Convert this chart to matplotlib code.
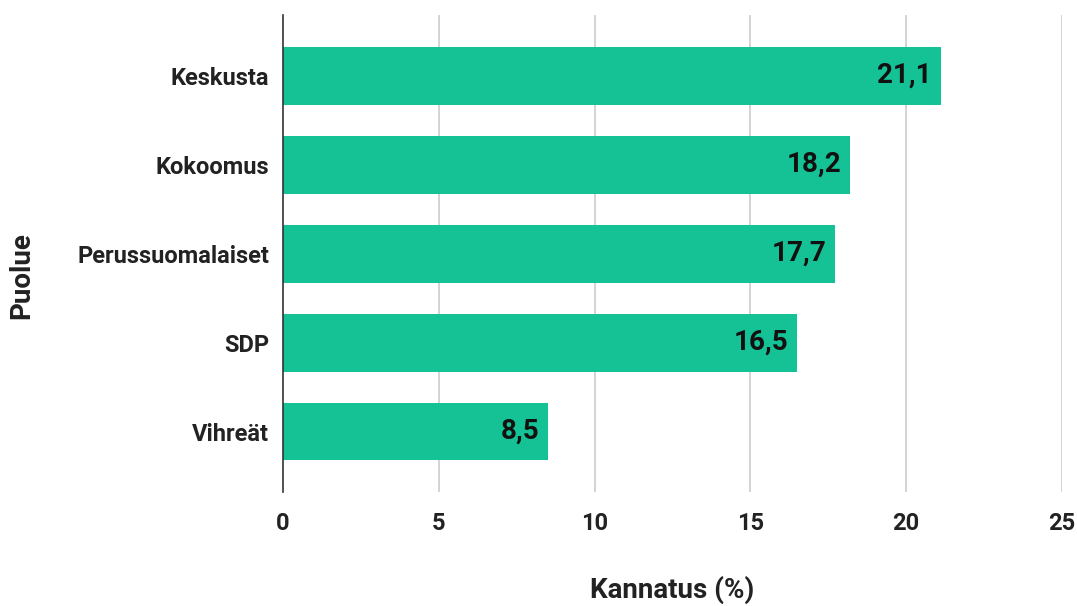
import matplotlib.pyplot as plt
import numpy as np

# Datos
puolueet = ["Keskusta", "Kokoomus", "Perussuomalaiset", "SDP", "Vihreät"]
kannatus = [21.1, 18.2, 17.7, 16.5, 8.5]
x_ticks = [0, 5, 10, 15, 20, 25]

plt.rcParams["font.family"] = ["Roboto", "DejaVu Sans"]

fig = plt.figure(figsize=(10.77, 6.06), dpi=100)
ax = fig.add_axes([0.2628, 0.188, 0.7233, 0.787])

y_pos = np.arange(len(puolueet))
ax.barh(y_pos, kannatus, height=0.65, color="#14c295", zorder=3)

ax.set_xlim(0, 25)
ax.set_ylim(len(puolueet) - 0.32, -0.68)
ax.set_xticks(x_ticks)
ax.set_xticklabels([str(t) for t in x_ticks])
ax.set_yticks(y_pos)
ax.set_yticklabels(puolueet)

for t in x_ticks[1:]:
    ax.axvline(t, color="#cccccc", lw=1.2, zorder=1)

for spine in ["top", "right", "bottom"]:
    ax.spines[spine].set_visible(False)
ax.spines["left"].set_color("#333333")
ax.spines["left"].set_linewidth(1.2)
ax.spines["left"].set_zorder(4)

ax.tick_params(axis="both", length=0, labelsize=17, labelcolor="#222222")
ax.tick_params(axis="x", pad=14)
ax.tick_params(axis="y", pad=10)
for lbl in ax.get_xticklabels() + ax.get_yticklabels():
    lbl.set_fontweight("bold")

for i, v in enumerate(kannatus):
    ax.text(v - 0.27, i, f"{v}".replace(".", ","), va="center", ha="right",
            fontsize=20, fontweight="bold", color="#111111", zorder=5)

ax.set_xlabel("Kannatus (%)", fontsize=20, fontweight="bold", color="#222222", labelpad=30)
ax.set_ylabel("Puolue", fontsize=20, fontweight="bold", color="#222222", labelpad=30, y=0.455)

plt.savefig("out.png", dpi=100)
plt.close(fig)
